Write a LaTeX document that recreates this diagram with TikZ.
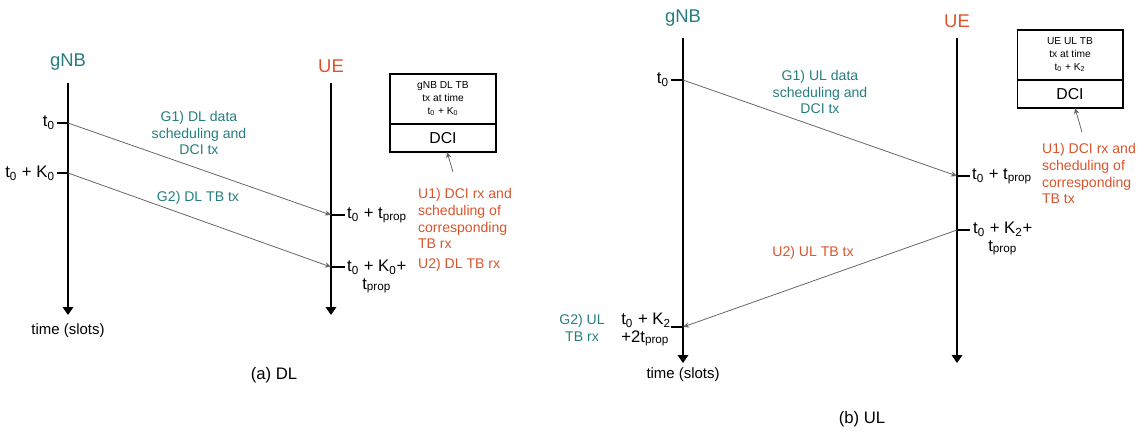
\documentclass[tikz,border=0pt]{standalone}
\usepackage{fontspec}
\setmainfont{Liberation Sans}
\usetikzlibrary{positioning,arrows.meta}

\definecolor{gnbteal}{RGB}{38,125,128}
\definecolor{uered}{RGB}{218,84,44}
\newcommand{\lo}[1]{\textsubscript{#1}}

\tikzset{
  lifeline/.style={-{Triangle[width=6pt,length=4.5pt]},line width=0.85pt},
  msg/.style={-{Stealth[length=3.5pt,width=3pt]},draw=black!60,line width=0.45pt},
  note/.style={-{Stealth[length=3.5pt,width=3pt]},draw=black!60,line width=0.45pt},
  tick/.style={line width=0.6pt},
  ent/.style={font=\fontsize{10.5}{12}\selectfont},
  tlab/.style={font=\fontsize{9.5}{10}\selectfont,inner sep=1pt,align=center},
  gtxt/.style={text=gnbteal,font=\fontsize{8}{9.6}\selectfont,align=center,inner sep=1pt},
  utxt/.style={text=uered,font=\fontsize{8}{9.6}\selectfont,align=left,inner sep=1pt},
  boxtop/.style={draw,line width=0.6pt,outer sep=0pt,minimum width=2.12cm,minimum height=1.0cm,
    align=center,font=\fontsize{5.8}{7.2}\selectfont},
  boxdci/.style={draw,line width=0.6pt,outer sep=0pt,minimum width=2.12cm,minimum height=0.56cm,
    font=\fontsize{9}{10}\selectfont},
  caption/.style={font=\fontsize{9.5}{11}\selectfont},
  timelab/.style={font=\fontsize{8.5}{10}\selectfont}
}

\begin{document}
\begin{tikzpicture}[x=0.02cm,y=-0.02cm]
  \useasboundingbox (0,0) rectangle (1148,432);

  % (a) DL
  \node[ent,text=gnbteal] (gnbA) at (68,62) {gNB};
  \node[ent,text=uered] (ueA) at (331,66) {UE};
  \coordinate (gnbAtop) at (68,83);
  \coordinate (gnbAend) at (68,315);
  \coordinate (ueAtop) at (331,83);
  \coordinate (ueAend) at (331,315);
  \node[timelab] (timeA) at (68,331) {time (slots)};

  \coordinate (gA1) at (68,123);
  \coordinate (gA2) at (68,173);
  \coordinate (uA1) at (331,215);
  \coordinate (uA2) at (331,267);
  \coordinate (gA1t) at (57,123);
  \coordinate (gA2t) at (57,173);
  \coordinate (uA1t) at (345,215);
  \coordinate (uA2t) at (345,267);

  \node[tlab,left=0pt of gA1t] (tA1) {t\lo0};
  \node[tlab,left=0pt of gA2t] (tA2) {t\lo0 + K\lo0};
  \node[tlab,right=0pt of uA1t] (tA3) {t\lo0 + t\lo{prop}};
  \node[tlab,anchor=north west] (tA4) at (345,258) {t\lo0 + K\lo0+\\t\lo{prop}};

  \node[gtxt] (g1A) at (199,133) {G1) DL data\\scheduling and\\DCI tx};
  \node[gtxt] (g2A) at (198,198) {G2) DL TB tx};

  \node[boxtop] (boxA) at (443,99) {gNB DL TB\\tx at time\\t\lo0 + K\lo0};
  \node[boxdci,below=0pt of boxA] (dciA) {DCI};
  \node[utxt,anchor=north west] (u1A) at (416,186) {U1) DCI rx and\\scheduling of\\corresponding\\TB rx};
  \node[utxt,anchor=west] (u2A) at (416,265) {U2) DL TB rx};

  % (b) UL
  \node[ent,text=gnbteal] (gnbB) at (683,18) {gNB};
  \node[ent,text=uered] (ueB) at (957,21) {UE};
  \coordinate (gnbBtop) at (683,38);
  \coordinate (gnbBend) at (683,363);
  \coordinate (ueBtop) at (957,38);
  \coordinate (ueBend) at (957,363);
  \node[timelab] (timeB) at (683,375) {time (slots)};

  \coordinate (gB1) at (683,80);
  \coordinate (gB2) at (683,327);
  \coordinate (uB1) at (957,176);
  \coordinate (uB2) at (957,230);
  \coordinate (gB1t) at (671,80);
  \coordinate (gB2t) at (671,327);
  \coordinate (uB1t) at (970,176);
  \coordinate (uB2t) at (970,230);

  \node[tlab,left=0pt of gB1t] (tB1) {t\lo0};
  \node[tlab,align=left,anchor=north east] (tB2) at (673,311) {t\lo0 + K\lo2\\+2t\lo{prop}};
  \node[tlab,right=0pt of uB1t] (tB3) {t\lo0 + t\lo{prop}};
  \node[tlab,anchor=north west] (tB4) at (971,220) {t\lo0 + K\lo2+\\t\lo{prop}};

  \node[gtxt] (g1B) at (820,92) {G1) UL data\\scheduling and\\DCI tx};
  \node[gtxt] (g2B) at (582,328) {G2) UL\\TB rx};
  \node[utxt] (u2B) at (813,253) {U2) UL TB tx};

  \node[boxtop] (boxB) at (1070,55) {UE UL TB\\tx at time\\t\lo0 + K\lo2};
  \node[boxdci,below=0pt of boxB] (dciB) {DCI};
  \node[utxt,anchor=north west] (u1B) at (1040,141) {U1) DCI rx and\\scheduling of\\corresponding\\TB tx};

  % captions
  \node[caption] (capA) at (274,375) {(a) DL};
  \node[caption] (capB) at (862,419) {(b) UL};

  % arrows
  \draw[lifeline] (gnbAtop) -- (gnbAend);
  \draw[lifeline] (ueAtop) -- (ueAend);
  \draw[tick] (gA1t) -- (gA1);
  \draw[tick] (gA2t) -- (gA2);
  \draw[tick] (uA1) -- (uA1t);
  \draw[tick] (uA2) -- (uA2t);
  \draw[msg] (gA1) -- (uA1);
  \draw[msg] (gA2) -- (uA2);
  \draw[note] ([xshift=0.74cm,yshift=8pt]u1A.north west) -- ([xshift=0.08cm]dciA.south);

  \draw[lifeline] (gnbBtop) -- (gnbBend);
  \draw[lifeline] (ueBtop) -- (ueBend);
  \draw[tick] (gB1t) -- (gB1);
  \draw[tick] (gB2t) -- (gB2);
  \draw[tick] (uB1) -- (uB1t);
  \draw[tick] (uB2) -- (uB2t);
  \draw[msg] (gB1) -- (uB1);
  \draw[msg] (uB2) -- (gB2);
  \draw[note] ([xshift=0.84cm,yshift=5pt]u1B.north west) -- ([xshift=0.1cm]dciB.south);
\end{tikzpicture}
\end{document}
